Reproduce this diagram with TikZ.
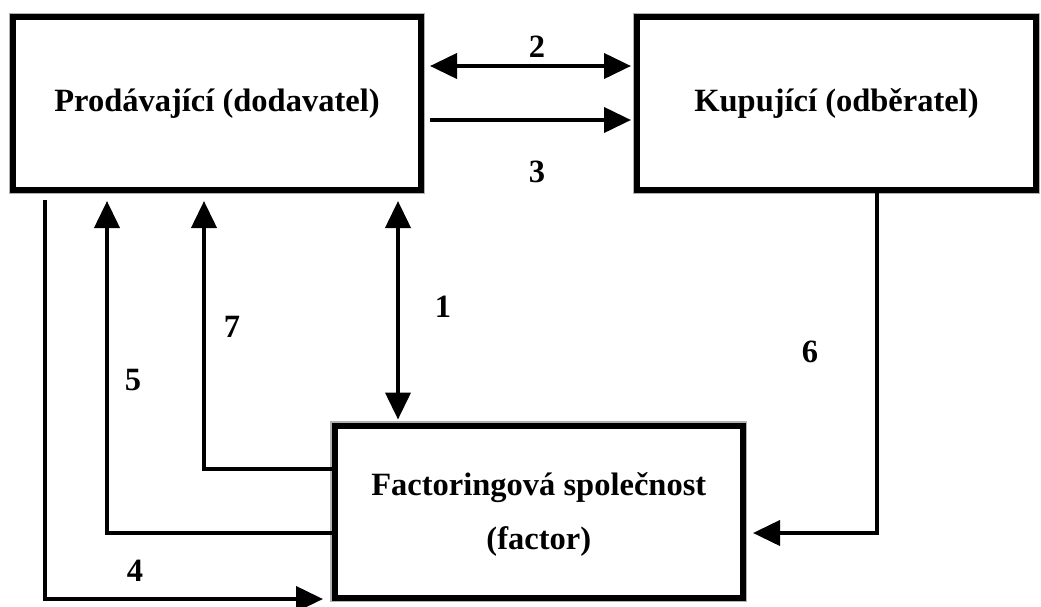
\documentclass[tikz,border=0pt]{standalone}
\usepackage{fontspec}
\setmainfont{Liberation Serif}
\usetikzlibrary{arrows.meta,calc}
\begin{document}
\begin{tikzpicture}[x=1pt,y=-1pt,
  box/.style={draw=black, line width=6pt, inner sep=0pt, align=center},
  lbl/.style={font=\fontsize{32.5}{38}\selectfont\bfseries, inner sep=0pt},
  conn/.style={line width=4pt, -{Triangle[length=27pt,width=25pt]}},
  bi/.style={line width=4pt, {Triangle[length=27pt,width=25pt]}-{Triangle[length=27pt,width=25pt]}},
  edge/.style={draw=gray!60, line width=1.2pt}]
\useasboundingbox (0,0) rectangle (1041,606);
% boxes
\node[box, lbl, minimum width=408pt, minimum height=173pt] (p) at (217,103.5) {Prodávající (dodavatel)};
\node[box, lbl, minimum width=399pt, minimum height=173pt] (k) at (836.5,103.5) {Kupující (odběratel)};
\node[box, minimum width=408.5pt, minimum height=172.5pt] (f) at (538.75,511.75) {};
\node[lbl] (f1) at ([yshift=24pt]f.center) {Factoringová společnost};
\node[lbl] (f2) at ([yshift=-30pt]f.center) {(factor)};
\foreach \n in {p,k,f}
  \draw[edge] ([shift={(-0.6pt,0.6pt)}]\n.north west) rectangle ([shift={(0.6pt,-0.6pt)}]\n.south east);
% connectors
\draw[bi] ($(p.east |- 0,66)+(6,0)$) -- ($(k.west |- 0,66)+(-3,0)$);
\draw[conn] ($(p.east |- 0,120)+(6,0)$) -- ($(k.west |- 0,120)+(-3,0)$);
\draw[bi] ($(p.south -| 398,0)+(0,8)$) -- ($(f.north -| 398,0)+(0,-3)$);
\draw[conn] (f.west |- 0,469) -| ($(p.south -| 204,0)+(0,8)$);
\draw[conn] (f.west |- 0,533) -| ($(p.south -| 107,0)+(0,8)$);
\draw[conn] ($(p.south -| 45,0)+(0,7)$) |- ($(f.west |- 0,599)+(-8.5,0)$);
\draw[conn] (k.south -| 877,0) |- ($(f.east |- 0,533)+(7,0)$);
% labels
\node[lbl] (n2) at (537,47) {2};
\node[lbl] (n3) at (537,172) {3};
\node[lbl] (n1) at (443,307) {1};
\node[lbl] (n7) at (232,327) {7};
\node[lbl] (n5) at (133,380) {5};
\node[lbl] (n6) at (810,352) {6};
\node[lbl] (n4) at (135,571) {4};
\end{tikzpicture}
\end{document}
